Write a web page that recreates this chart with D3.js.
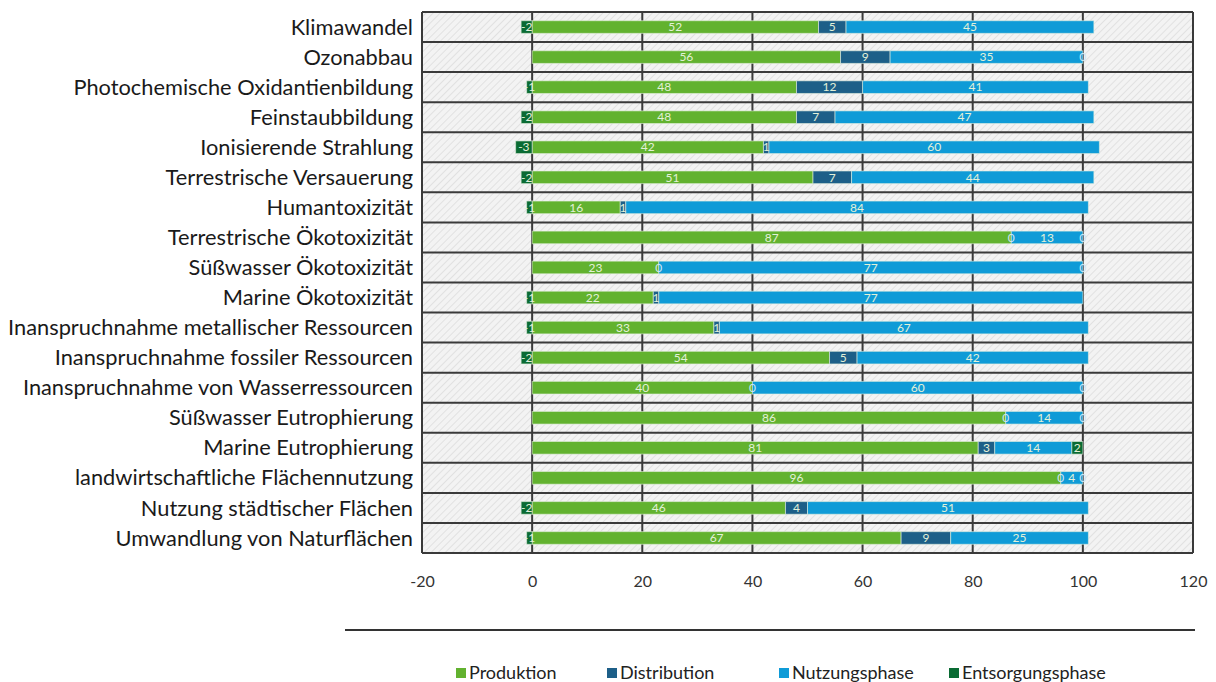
<!DOCTYPE html>
<html>
<head>
<meta charset="utf-8">
<script src="https://cdn.jsdelivr.net/npm/d3@7"></script>
<style>
  body { margin: 0; background: #fff; }
  svg { display: block; }
</style>
</head>
<body>
<div id="chart"></div>
<script>
// categories (top to bottom)
let categories = [
  "Klimawandel", "Ozonabbau", "Photochemische Oxidantienbildung", "Feinstaubbildung",
  "Ionisierende Strahlung", "Terrestrische Versauerung", "Humantoxizität",
  "Terrestrische Ökotoxizität", "Süßwasser Ökotoxizität", "Marine Ökotoxizität",
  "Inanspruchnahme metallischer Ressourcen", "Inanspruchnahme fossiler Ressourcen",
  "Inanspruchnahme von Wasserressourcen", "Süßwasser Eutrophierung",
  "Marine Eutrophierung", "landwirtschaftliche Flächennutzung",
  "Nutzung städtischer Flächen", "Umwandlung von Naturflächen"
]

let seriesNames = ["Produktion", "Distribution", "Nutzungsphase", "Entsorgungsphase"]

let produktion   = [52, 56, 48, 48, 42, 51, 16, 87, 23, 22, 33, 54, 40, 86, 81, 96, 46, 67]
let distribution = [5, 9, 12, 7, 1, 7, 1, 0, 0, 1, 1, 5, 0, 0, 3, 0, 4, 9]
let nutzung      = [45, 35, 41, 47, 60, 44, 84, 13, 77, 77, 67, 42, 60, 14, 14, 4, 51, 25]
let entsorgung   = [-2, 0, -1, -2, -3, -2, -1, 0, 0, -1, -1, -2, 0, 0, 2, 0, -2, -1]

let xTicks = [-20, 0, 20, 40, 60, 80, 100, 120]

let colors = ["#62b22f", "#1d5f88", "#0f9bd7", "#0a6b33"]

// dimensions
let width = 1216,
    height = 682,
    plotLeft = 422,
    plotRight = 1193,
    plotTop = 12,
    plotBottom = 553

let font = "Lato, 'Open Sans', sans-serif"

let svg = d3.select("#chart")
  .append("svg")
  .attr("width", width)
  .attr("height", height)

// hatched background pattern
let pat = svg.append("defs").append("pattern")
  .attr("id", "hatch")
  .attr("patternUnits", "userSpaceOnUse")
  .attr("width", 5)
  .attr("height", 5)
  .attr("patternTransform", "rotate(45)")
pat.append("rect").attr("width", 5).attr("height", 5).attr("fill", "#f3f3f3")
pat.append("line")
  .attr("x1", 0).attr("y1", 0).attr("x2", 0).attr("y2", 5)
  .attr("stroke", "#d6d6d6").attr("stroke-width", 1.2)

let x = d3.scaleLinear()
  .domain([-20, 120])
  .range([plotLeft, plotRight])

let y = d3.scaleBand()
  .domain(categories)
  .range([plotTop, plotBottom])
  .paddingInner(0.58)
  .paddingOuter(0.29)

let rowStep = (plotBottom - plotTop) / categories.length

svg.append("rect")
  .attr("x", plotLeft)
  .attr("y", plotTop)
  .attr("width", plotRight - plotLeft)
  .attr("height", plotBottom - plotTop)
  .attr("fill", "url(#hatch)")

// horizontal row separators
svg.append("g")
  .selectAll("line")
  .data(d3.range(categories.length + 1))
  .join("line")
  .attr("x1", plotLeft)
  .attr("x2", plotRight)
  .attr("y1", i => plotTop + i * rowStep)
  .attr("y2", i => plotTop + i * rowStep)
  .attr("stroke", "#3a3a3a")
  .attr("stroke-width", 2)

// vertical grid lines
svg.append("g")
  .selectAll("line")
  .data(xTicks)
  .join("line")
  .attr("x1", d => x(d))
  .attr("x2", d => x(d))
  .attr("y1", plotTop)
  .attr("y2", plotBottom)
  .attr("stroke", "#3a3a3a")
  .attr("stroke-width", 2)

// stack values (positives to the right, negatives to the left)
let seriesValues = [produktion, distribution, nutzung, entsorgung]
let segments = []
categories.forEach((cat, i) => {
  let pos = 0, neg = 0
  seriesValues.forEach((vals, k) => {
    let v = vals[i]
    let x0, x1
    if (v >= 0) { x0 = pos; x1 = pos + v; pos += v }
    else { x1 = neg; x0 = neg + v; neg += v }
    segments.push({cat: cat, k: k, value: v, x0: x0, x1: x1})
  })
})

svg.append("g")
  .selectAll("rect")
  .data(segments)
  .join("rect")
  .attr("x", d => x(d.x0))
  .attr("width", d => x(d.x1) - x(d.x0))
  .attr("y", d => y(d.cat))
  .attr("height", y.bandwidth())
  .attr("fill", d => colors[d.k])
  .attr("stroke", "#e4f0e0")
  .attr("stroke-opacity", 0.6)
  .attr("stroke-width", 1)

// data labels
svg.append("g")
  .selectAll("text")
  .data(segments)
  .join("text")
  .attr("x", d => x((d.x0 + d.x1) / 2))
  .attr("y", d => y(d.cat) + y.bandwidth() / 2)
  .attr("dy", "0.35em")
  .attr("text-anchor", "middle")
  .style("font-family", font)
  .style("font-size", "12px")
  .style("fill", d => d.value === 0 ? "#cfe6f5" : "#e3f1d8")
  .text(d => d.value)

// category labels
svg.append("g")
  .selectAll("text")
  .data(categories)
  .join("text")
  .attr("x", plotLeft - 9)
  .attr("y", d => y(d) + y.bandwidth() / 2)
  .attr("dy", "0.35em")
  .attr("text-anchor", "end")
  .style("font-family", font)
  .style("font-size", "21.8px")
  .style("fill", "#1a1a1a")
  .text(d => d)

// x axis tick labels
let xAxis = svg.append("g")
  .attr("transform", "translate(0," + 581 + ")")
  .call(d3.axisBottom(x).tickValues(xTicks).tickSize(0).tickPadding(0).tickFormat(d => String(d)))
xAxis.select(".domain").remove()
xAxis.selectAll("text")
  .attr("dy", "0.35em")
  .style("font-family", font)
  .style("font-size", "16px")
  .style("fill", "#333")

// separator line above legend
svg.append("line")
  .attr("x1", 345).attr("x2", 1195)
  .attr("y1", 630).attr("y2", 630)
  .attr("stroke", "#333")
  .attr("stroke-width", 2)

// legend
let legendX = [456, 607, 779, 949]
let legend = svg.append("g")
  .selectAll("g")
  .data(seriesNames)
  .join("g")
  .attr("transform", (d, i) => "translate(" + legendX[i] + ",673)")
legend.append("rect")
  .attr("x", 0).attr("y", -5)
  .attr("width", 10).attr("height", 10)
  .attr("fill", (d, i) => colors[i])
legend.append("text")
  .attr("x", 13)
  .attr("dy", "0.35em")
  .style("font-family", font)
  .style("font-size", "18px")
  .style("fill", "#222")
  .text(d => d)
</script>
</body>
</html>
